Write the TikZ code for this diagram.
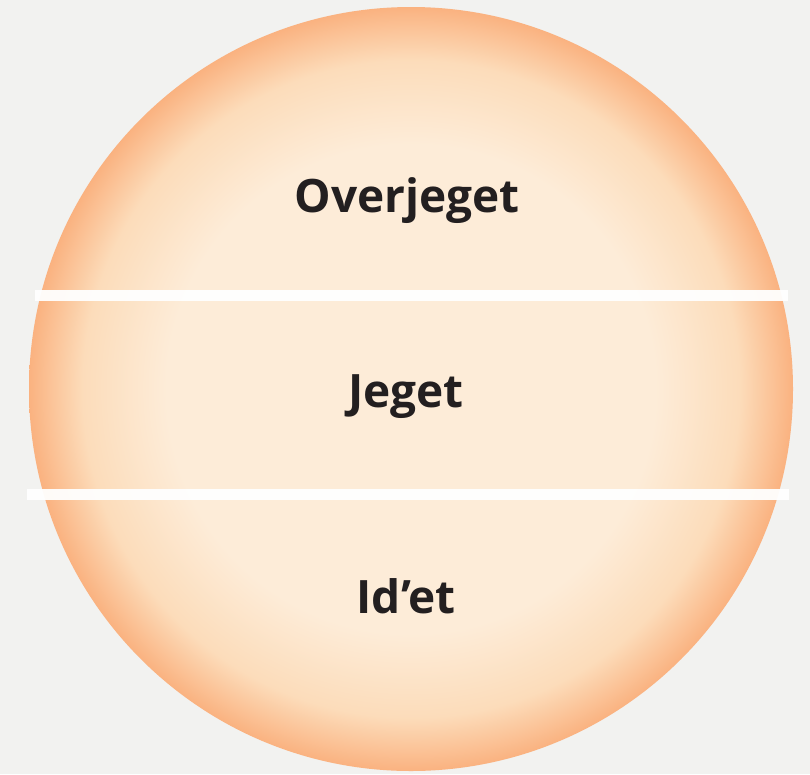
\documentclass[tikz,border=0pt]{standalone}
\usepackage{fontspec}
\setmainfont{Open Sans}
\definecolor{bg}{RGB}{242,242,240}
\definecolor{cin}{RGB}{253,236,216}
\definecolor{cmid}{RGB}{252,220,186}
\definecolor{cout}{RGB}{250,178,128}
\definecolor{txt}{RGB}{35,31,32}
\pgfdeclareradialshading{sphere}{\pgfpoint{0bp}{0bp}}{color(0bp)=(cin); color(16bp)=(cin); color(21.5bp)=(cmid); color(25bp)=(cout); color(50bp)=(cout)}
\tikzset{
  label/.style={font=\bfseries\fontsize{46}{52}\selectfont, text=txt, inner sep=0pt, anchor=base},
  bar/.style={white, line width=11pt, opacity=0.95},
  ball/.style={circle, minimum size=764pt, inner sep=0pt, shading=sphere, draw=none}
}
\begin{document}
\begin{tikzpicture}[x=1pt,y=-1pt]
\fill[bg] (0,0) rectangle (810,774);
\useasboundingbox (0,0) rectangle (810,774);
\node[ball] (sphere) at (411,389) {};
\draw[bar] (35,295) -- (788,295);
\draw[bar] (27,494) -- (789,494);
\node[label] (over) at (407,212) {Overjeget};
\node[label] (jeg) at (406,407) {Jeget};
\node[label] (id) at (406,613) {Id’et};
\end{tikzpicture}
\end{document}
